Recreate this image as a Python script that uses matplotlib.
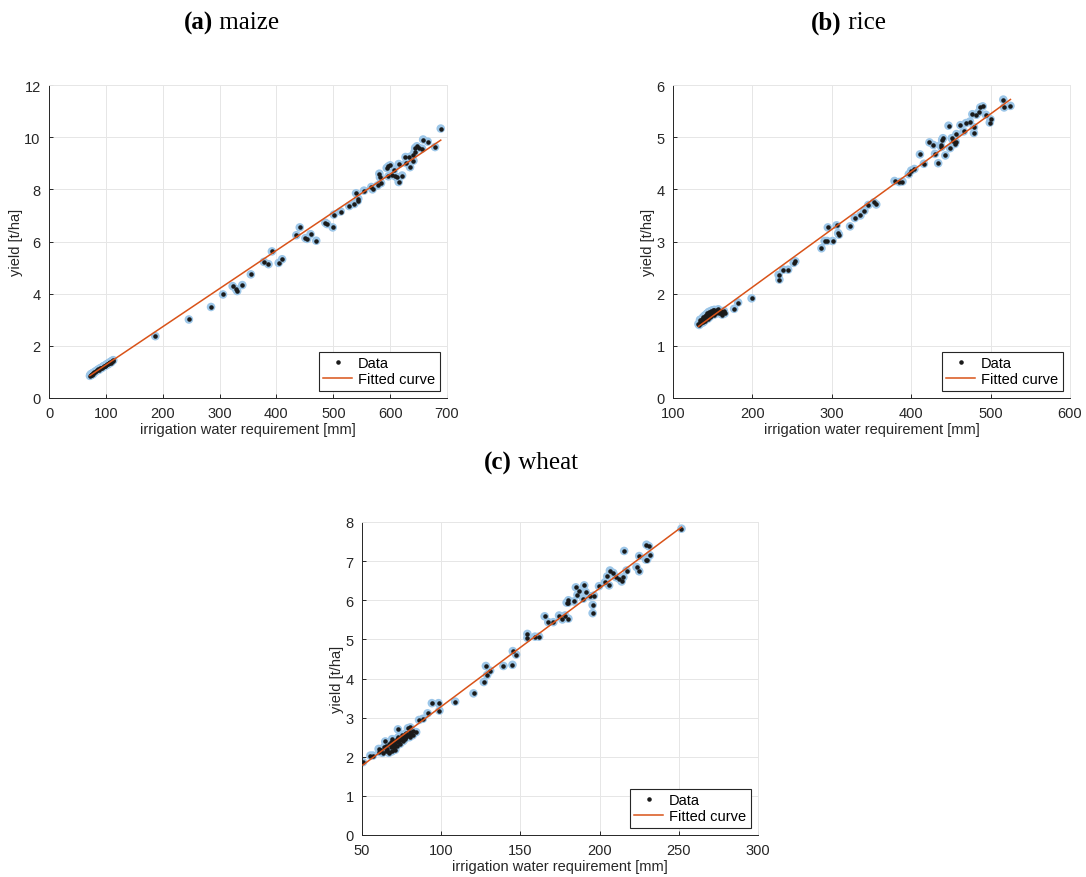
import numpy as np
import matplotlib
matplotlib.use('Agg')
import matplotlib.pyplot as plt

plt.rcParams['font.family'] = ['Liberation Sans', 'DejaVu Sans']

# maize data (irrigation water requirement [mm], yield [t/ha])
maize_x = [72, 73, 74, 75, 76, 77, 78, 79, 81, 83, 85, 87, 88, 90, 92, 93, 95, 96, 98, 99,
           101, 102, 104, 105, 106, 108, 109, 110, 112, 113,
           187, 246, 285, 306, 323, 329, 331, 340, 355, 378, 386, 392, 404, 410,
           435, 441, 451, 454, 460, 470, 486, 489, 499, 501, 513, 528, 537, 540, 543, 544,
           554, 567, 569, 578, 581, 582, 584, 594, 597, 600, 597, 603, 609, 612, 615, 621,
           607, 615, 627, 634, 628, 635, 641, 640, 643, 644, 647, 650, 656, 658, 666, 679, 689]
maize_y = [0.85, 0.90, 0.88, 0.93, 0.90, 0.95, 0.93, 0.98, 1.00, 1.04, 1.06, 1.10, 1.08, 1.14,
           1.16, 1.15, 1.20, 1.22, 1.24, 1.23, 1.28, 1.30, 1.29, 1.34, 1.35, 1.38, 1.36, 1.41,
           1.43, 1.45,
           2.37, 3.01, 3.49, 3.97, 4.29, 4.17, 4.10, 4.33, 4.74, 5.22, 5.13, 5.62, 5.18, 5.32,
           6.24, 6.54, 6.13, 6.10, 6.28, 6.03, 6.72, 6.67, 6.54, 7.03, 7.15, 7.36, 7.44, 7.85,
           7.56, 7.64, 7.95, 8.09, 8.00, 8.15, 8.60, 8.46, 8.24, 8.82, 8.88, 8.92, 8.50, 8.56,
           8.50, 8.46, 8.28, 8.53, 8.76, 8.97, 9.24, 9.24, 9.01, 8.85, 9.10, 9.31, 9.44, 9.59,
           9.65, 9.59, 9.56, 9.91, 9.83, 9.62, 10.33]
maize_fit = [0.01463, -0.194]   # slope, intercept

# rice data
rice_x = [132, 133, 134, 134, 135, 136, 137, 138, 138, 139, 140, 140, 141, 142, 142, 143,
          144, 144, 145, 146, 146, 147, 148, 148, 149, 150, 151, 152, 152, 153, 154, 155,
          156, 157, 158, 159, 160, 161, 162, 163, 164, 165,
          177, 182, 199, 233, 234, 239, 245, 252, 254, 287, 291, 294, 295, 301, 306, 308, 309,
          323, 329, 336, 341, 346, 353, 356, 379, 385, 389, 397, 400, 404, 411, 416, 423, 428,
          430, 434, 437, 439, 438, 440, 443, 447, 449, 451, 455, 456, 453, 457, 462, 466, 469,
          474, 477, 479, 479, 482, 485, 487, 490, 494, 499, 500, 516, 517, 525]
rice_y = [1.42, 1.40, 1.45, 1.50, 1.43, 1.47, 1.52, 1.45, 1.55, 1.50, 1.58, 1.48, 1.53, 1.60,
          1.55, 1.62, 1.57, 1.52, 1.65, 1.60, 1.55, 1.63, 1.67, 1.58, 1.62, 1.68, 1.64, 1.60,
          1.69, 1.66, 1.62, 1.68, 1.65, 1.70, 1.63, 1.67, 1.62, 1.66, 1.60, 1.64, 1.67, 1.62,
          1.71, 1.83, 1.91, 2.36, 2.27, 2.46, 2.46, 2.59, 2.62, 2.87, 3.01, 3.01, 3.27, 3.01,
          3.31, 3.16, 3.13, 3.29, 3.45, 3.50, 3.59, 3.70, 3.75, 3.71, 4.16, 4.14, 4.15, 4.29,
          4.36, 4.39, 4.67, 4.49, 4.90, 4.85, 4.68, 4.50, 4.85, 4.95, 4.81, 4.98, 4.65, 5.22,
          4.79, 4.98, 4.87, 4.91, 4.93, 5.06, 5.23, 5.11, 5.27, 5.30, 5.44, 5.19, 5.08, 5.43,
          5.48, 5.57, 5.59, 5.43, 5.28, 5.34, 5.72, 5.57, 5.60]
rice_fit = [0.01107, -0.089]

# wheat data
wheat_x = [50.6, 55.3, 56.9, 60.5, 64.7,
           61, 62, 63, 64, 65, 65, 66, 67, 67, 68, 68, 69, 69, 70, 70, 71, 71, 72, 72, 73, 73,
           74, 74, 75, 75, 76, 76, 77, 77, 78, 78, 79, 80, 80, 81, 82, 82, 67, 71, 69,
           72.7, 79, 80.5, 84.2, 86, 88.4, 91.4, 94.1, 98.3, 98.9, 108.8, 120.4, 126.9, 128.2,
           129, 130.9, 139.3, 145, 145.2, 147.3, 154.4, 154.4, 159.2, 161.8, 165.3, 167.6,
           170.8, 174.4, 176.5, 178.2, 180.3, 179.2, 180.3, 180.3, 183.8, 185, 186, 187, 189.7,
           190.3, 191.2, 194, 195.6, 195.6, 196.4, 199.6, 203.4, 204.8, 206, 206.5, 208.6,
           210.3, 212.4, 213.9, 215, 215.5, 217, 223.3, 225, 225, 229.2, 230, 229.6, 231.1,
           231.7, 251.7]
wheat_y = [1.86, 2.03, 2.03, 2.20, 2.39,
           2.12, 2.18, 2.10, 2.25, 2.15, 2.28, 2.20, 2.32, 2.12, 2.25, 2.38, 2.30, 2.45, 2.35,
           2.22, 2.40, 2.30, 2.45, 2.28, 2.38, 2.50, 2.42, 2.33, 2.48, 2.55, 2.40, 2.52, 2.45,
           2.58, 2.50, 2.60, 2.55, 2.62, 2.50, 2.58, 2.65, 2.55, 2.10, 2.18, 2.14,
           2.70, 2.73, 2.75, 2.63, 2.94, 2.97, 3.11, 3.37, 3.37, 3.18, 3.41, 3.62, 3.91, 4.32,
           4.09, 4.20, 4.32, 4.35, 4.70, 4.61, 5.04, 5.14, 5.07, 5.07, 5.59, 5.44, 5.44, 5.61,
           5.51, 5.61, 5.53, 5.94, 6.00, 5.94, 5.97, 6.33, 6.14, 6.24, 6.04, 6.38, 6.21, 6.10,
           5.88, 5.67, 6.12, 6.36, 6.46, 6.61, 6.38, 6.76, 6.70, 6.59, 6.55, 6.48, 6.59, 7.26,
           6.76, 6.85, 6.74, 7.13, 7.04, 7.04, 7.42, 7.38, 7.15, 7.83]
wheat_fit = [0.03023, 0.260]

W, H = 1086, 878
fig = plt.figure(figsize=(W / 100, H / 100), dpi=100)

# axes boxes in pixels: left, top, right, bottom
boxes = {
    'maize': (49, 86, 447, 399),
    'rice': (673, 86, 1070, 399),
    'wheat': (362, 523, 758, 836),
}

axis_col = '#262626'
grid_col = '#e6e6e6'


def make_panel(name, xs, ys, fit, xlim, ylim, xticks, yticks):
    l, t, r, b = boxes[name]
    ax = fig.add_axes([l / W, 1 - b / H, (r - l) / W, (b - t) / H])
    xs = np.array(xs, dtype=float)
    ys = np.array(ys, dtype=float)
    ax.scatter(xs, ys, s=38, color='#9cc6e8', edgecolors='none', zorder=2)
    ax.plot(xs, ys, '.', color='#1a1a1a', markersize=4.5, label='Data', zorder=3)
    xf = np.array([xs.min(), xs.max()])
    ax.plot(xf, fit[0] * xf + fit[1], color='#D95319', lw=1.1, label='Fitted curve', zorder=4)
    ax.set_xlim(xlim)
    ax.set_ylim(ylim)
    ax.set_xticks(xticks)
    ax.set_yticks(yticks)
    ax.grid(True, color=grid_col, lw=0.7)
    ax.set_axisbelow(True)
    for s in ['left', 'bottom']:
        ax.spines[s].set_color(axis_col)
        ax.spines[s].set_linewidth(0.7)
    for s in ['top', 'right']:
        ax.spines[s].set_color(grid_col)
        ax.spines[s].set_linewidth(0.7)
    ax.tick_params(direction='in', length=3, width=0.7, colors=axis_col, labelsize=10.5,
                   top=False, right=False)
    ax.tick_params(axis='x', pad=6)
    ax.tick_params(axis='y', pad=6)
    ax.set_xlabel('irrigation water requirement [mm]', fontsize=10.5, color=axis_col, labelpad=1)
    ax.set_ylabel('yield [t/ha]', fontsize=10.5, color=axis_col, labelpad=1)
    leg = ax.legend(loc='lower right', fontsize=10.5, frameon=True, fancybox=False,
                    edgecolor=axis_col, framealpha=1, borderaxespad=0.5,
                    handlelength=2.0, borderpad=0.3, labelspacing=0.15, handletextpad=0.4)
    leg.get_frame().set_linewidth(0.8)
    return ax


make_panel('maize', maize_x, maize_y, maize_fit, (0, 700), (0, 12),
           range(0, 701, 100), range(0, 13, 2))
make_panel('rice', rice_x, rice_y, rice_fit, (100, 600), (0, 6),
           range(100, 601, 100), range(0, 7, 1))
make_panel('wheat', wheat_x, wheat_y, wheat_fit, (50, 300), (0, 8),
           range(50, 301, 50), range(0, 9, 1))

# captions: bold label then regular crop name
captions = [('(a)', ' maize', 213, 23), ('(b)', ' rice', 842, 23), ('(c)', ' wheat', 512, 463)]
serif = ['Liberation Serif', 'DejaVu Serif']
for lab, crop, px, py in captions:
    fig.text(px / W, 1 - py / H, lab, fontsize=18, fontweight='bold', family=serif,
             ha='right', va='center')
    fig.text(px / W, 1 - py / H, crop, fontsize=18, family=serif, ha='left', va='center')

fig.savefig('out.png', dpi=100)
